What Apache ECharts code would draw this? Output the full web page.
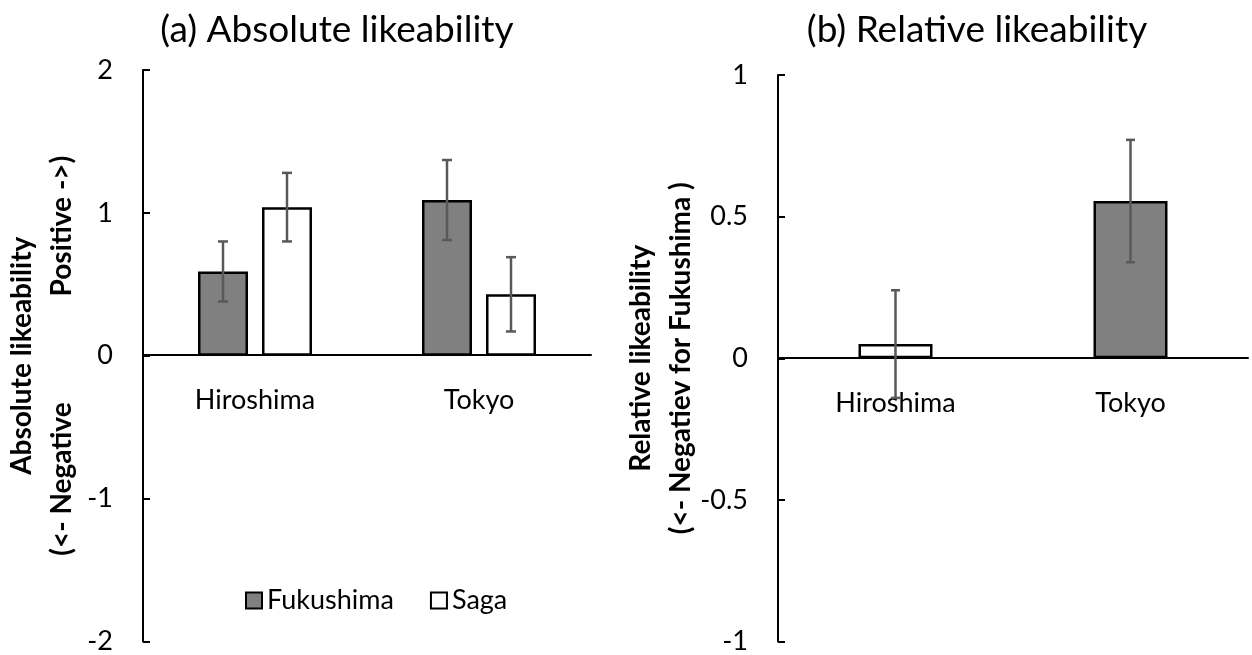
<!DOCTYPE html>
<html>
<head>
<meta charset="utf-8">
<script src="https://cdn.jsdelivr.net/npm/echarts@6/dist/echarts.min.js"></script>
<style>
  html, body { margin: 0; padding: 0; background: #fff; }
  #main { width: 1252px; height: 655px; }
</style>
</head>
<body>
<div id="main"></div>
<script>
// data
const categories = ["Hiroshima", "Tokyo"];
const absFukushima = [0.59, 1.09];
const absFukushimaErr = [0.21, 0.28];
const absSaga = [1.04, 0.43];
const absSagaErr = [0.24, 0.26];
const relValues = [0.05, 0.555];
const relErr = [0.19, 0.216];
const relSide = ["Saga", "Fukushima"]; // which group the relative bar is coloured as

const FONT = "Lato";
const FS = 27; // tick / category / legend text
const NAME_FS = 28; // bold axis titles
const fills = { Fukushima: "#808080", Saga: "#ffffff" };
const ERR_COLOR = "#595959";

const barW = 50;
const barGapPct = 28;
const pairOffset = (barW + (barW * barGapPct) / 100) / 2;

// grid boxes
const g1 = { left: 143, top: 70, width: 448, height: 574 };
const g2 = { left: 778, top: 75, width: 470, height: 568 };

// width of the spacer between "(<- Negative" and "Positive ->)"
const measure = (txt) => {
  const ctx = document.createElement("canvas").getContext("2d");
  ctx.font = "bold " + NAME_FS + "px " + FONT;
  return ctx.measureText(txt).width;
};
const spacerW = Math.max(20, 400 - measure("(<- Negative") - measure("Positive ->)"));

// error bar drawer for a category axis
const errRenderer = (offset, cap) => {
  return (params, api) => {
    const i = api.value(0);
    const v = api.value(1);
    const e = api.value(2);
    const hi = api.coord([i, v + e]);
    const lo = api.coord([i, v - e]);
    const x = hi[0] + offset;
    const style = { stroke: ERR_COLOR, lineWidth: 2.5 };
    return {
      type: "group",
      children: [
        { type: "line", shape: { x1: x, y1: hi[1], x2: x, y2: lo[1] }, style },
        { type: "line", shape: { x1: x - cap, y1: hi[1], x2: x + cap, y2: hi[1] }, style },
        { type: "line", shape: { x1: x - cap, y1: lo[1], x2: x + cap, y2: lo[1] }, style },
      ],
    };
  };
};

const errData = (vals, errs) => categories.map((c, i) => [i, vals[i], errs[i]]);

const nameRich = {
  t: { fontFamily: FONT, fontSize: NAME_FS, fontWeight: "bold", color: "#000", lineHeight: 40 },
  sp: { width: spacerW },
};

const yAxisBase = {
  type: "value",
  splitLine: { show: false },
  axisLine: { show: true, lineStyle: { color: "#000", width: 2 } },
  axisTick: { show: true, inside: true, length: 7, lineStyle: { color: "#000", width: 2 } },
  axisLabel: { color: "#000", fontSize: FS, fontFamily: FONT, margin: 30 },
  nameLocation: "middle",
  nameRotate: 90,
  nameTextStyle: { align: "center", rich: nameRich },
};

// x axis sits on the zero line in the middle of each grid
const xAxisBase = {
  type: "category",
  data: categories,
  axisLine: { onZero: false, lineStyle: { color: "#000", width: 2 } },
  axisTick: { show: false },
  axisLabel: { color: "#000", fontSize: FS, fontFamily: FONT, margin: 32 },
};

const barBorder = { borderColor: "#000", borderWidth: 2.5 };
const titleStyle = { fontFamily: FONT, fontSize: 37, fontWeight: "normal", color: "#000" };

const chart = echarts.init(document.getElementById("main"));
chart.setOption({
  animation: false,
  backgroundColor: "#fff",
  title: [
    { text: "(a) Absolute likeability", left: 332, top: 7, textAlign: "center", textStyle: titleStyle },
    { text: "(b) Relative likeability", left: 972, top: 7, textAlign: "center", textStyle: titleStyle },
  ],
  legend: {
    data: ["Fukushima", "Saga"],
    left: 240,
    top: 582,
    icon: "rect",
    itemWidth: 16,
    itemHeight: 16,
    itemGap: 36,
    textStyle: { fontFamily: FONT, fontSize: FS, color: "#000" },
  },
  grid: [g1, g2],
  xAxis: [
    Object.assign({}, xAxisBase, { gridIndex: 0, offset: -g1.height / 2 }),
    Object.assign({}, xAxisBase, { gridIndex: 1, offset: -g2.height / 2 }),
  ],
  yAxis: [
    Object.assign({}, yAxisBase, {
      gridIndex: 0,
      min: -2,
      max: 2,
      interval: 1,
      name: "{t|Absolute likeability}\n{t|(<- Negative}{sp|}{t|Positive ->)}",
      nameGap: 61,
    }),
    Object.assign({}, yAxisBase, {
      gridIndex: 1,
      min: -1,
      max: 1,
      interval: 0.5,
      name: "{t|Relative likeability}\n{t|(<- Negatiev for Fukushima )}",
      nameGap: 77,
    }),
  ],
  series: [
    {
      name: "Fukushima",
      type: "bar",
      xAxisIndex: 0,
      yAxisIndex: 0,
      data: absFukushima,
      barWidth: barW,
      barGap: barGapPct + "%",
      itemStyle: Object.assign({ color: fills.Fukushima }, barBorder),
    },
    {
      name: "Saga",
      type: "bar",
      xAxisIndex: 0,
      yAxisIndex: 0,
      data: absSaga,
      barWidth: barW,
      barGap: barGapPct + "%",
      itemStyle: Object.assign({ color: fills.Saga }, barBorder),
    },
    {
      name: "Relative",
      type: "bar",
      xAxisIndex: 1,
      yAxisIndex: 1,
      barWidth: 74,
      data: relValues.map((v, i) => ({
        value: v,
        itemStyle: Object.assign({ color: fills[relSide[i]] }, barBorder),
      })),
    },
    {
      type: "custom",
      xAxisIndex: 0,
      yAxisIndex: 0,
      z: 5,
      renderItem: errRenderer(-pairOffset, 5),
      data: errData(absFukushima, absFukushimaErr),
    },
    {
      type: "custom",
      xAxisIndex: 0,
      yAxisIndex: 0,
      z: 5,
      renderItem: errRenderer(pairOffset, 5),
      data: errData(absSaga, absSagaErr),
    },
    {
      type: "custom",
      xAxisIndex: 1,
      yAxisIndex: 1,
      z: 5,
      renderItem: errRenderer(0, 4.5),
      data: errData(relValues, relErr),
    },
  ],
});
</script>
</body>
</html>
